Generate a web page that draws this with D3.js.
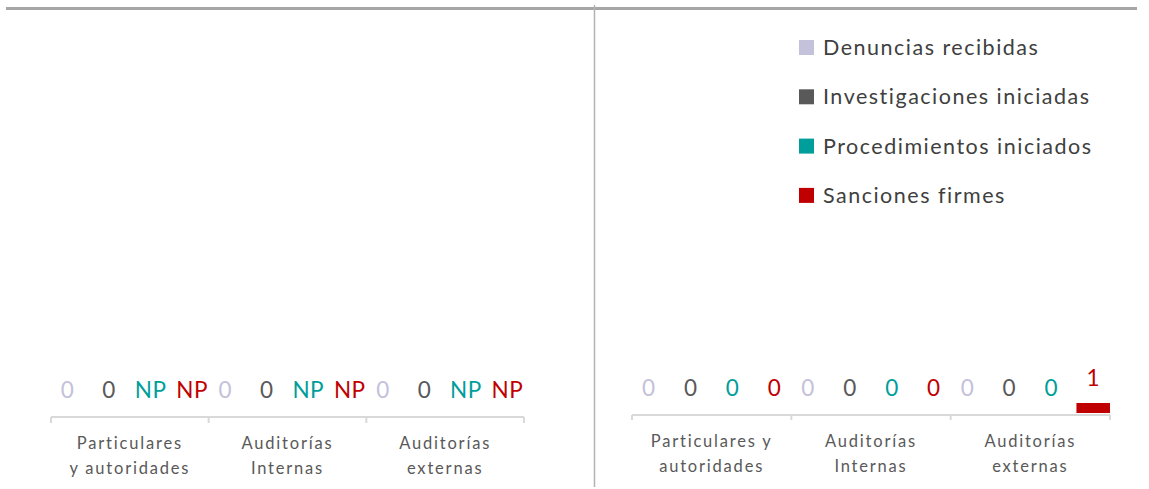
<!DOCTYPE html>
<html><head><meta charset="utf-8">
<script src="https://cdn.jsdelivr.net/npm/d3@7"></script>
<style>
html,body{margin:0;padding:0;background:#fff;}
svg{display:block;}
text{font-family:Lato, "Open Sans", sans-serif;}
</style></head>
<body>
<svg id="c" width="1149" height="489"></svg>
<script>
const series = ["Denuncias recibidas","Investigaciones iniciadas","Procedimientos iniciados","Sanciones firmes"];
const colors = ["#c4c1da","#595959","#009e9a","#c00000"];
const leftCategories = [["Particulares","y autoridades"],["Auditorías","Internas"],["Auditorías","externas"]];
const rightCategories = [["Particulares y","autoridades"],["Auditorías","Internas"],["Auditorías","externas"]];
// values per series, per category (null = NP)
const leftDenuncias = [0,0,0];
const leftInvestigaciones = [0,0,0];
const leftProcedimientos = [null,null,null];
const leftSanciones = [null,null,null];
const rightDenuncias = [0,0,0];
const rightInvestigaciones = [0,0,0];
const rightProcedimientos = [0,0,0];
const rightSanciones = [0,0,1];

const svg = d3.select("#c");

// frame lines
svg.append("line").attr("x1",6).attr("x2",1137).attr("y1",8.5).attr("y2",8.5)
  .attr("stroke","#a6a6a6").attr("stroke-width",3);
svg.append("line").attr("x1",594.5).attr("x2",594.5).attr("y1",5).attr("y2",487)
  .attr("stroke","#b3b3b3").attr("stroke-width",1.5);

function drawChart(cfg){
  const g = svg.append("g");
  const cats = cfg.categories.map((c,i)=>i);
  const x = d3.scaleBand().domain(cats).range([cfg.x0,cfg.x1]).padding(0);
  const xs = d3.scaleBand().domain(series).range([0,x.bandwidth()]).paddingInner(0.2).paddingOuter(0);
  const y = d3.scaleLinear().domain([0,35]).range([cfg.base,cfg.base-350]);
  const data = [cfg.s0,cfg.s1,cfg.s2,cfg.s3];

  // bars
  data.forEach((arr,si)=>{
    arr.forEach((v,ci)=>{
      if(v!==null && v>0){
        g.append("rect")
          .attr("x",x(ci)+xs(series[si]))
          .attr("width",xs.bandwidth())
          .attr("y",y(v)-2)
          .attr("height",y(0)-y(v))
          .attr("fill",colors[si]);
      }
    });
  });

  // axis
  const ax = g.append("g").attr("transform",`translate(0,${cfg.base})`);
  ax.append("line").attr("x1",cfg.x0).attr("x2",cfg.x1).attr("y1",0).attr("y2",0)
    .attr("stroke","#d9d9d9").attr("stroke-width",2);
  const ticks = cats.map(c=>x(c)).concat([cfg.x1]);
  ax.selectAll("line.t").data(ticks).join("line").attr("class","t")
    .attr("x1",d=>d).attr("x2",d=>d).attr("y1",0).attr("y2",cfg.tick)
    .attr("stroke","#d9d9d9").attr("stroke-width",2);

  // category labels
  cfg.categories.forEach((lines,ci)=>{
    const cx = x(ci)+x.bandwidth()/2;
    lines.forEach((t,li)=>{
      g.append("text").attr("x",cx).attr("y",cfg.catY+li*25)
        .attr("text-anchor","middle").attr("font-size",16.5)
        .attr("letter-spacing","1.8px").attr("fill","#595959").text(t);
    });
  });

  // value labels
  data.forEach((arr,si)=>{
    arr.forEach((v,ci)=>{
      const cx = x(ci)+xs(series[si])+xs.bandwidth()/2;
      g.append("text").attr("x",cx).attr("y",(v===null?y(0):y(v))-19)
        .attr("text-anchor","middle").attr("font-size",22.5)
        .attr("letter-spacing","0.5px")
        .attr("fill",colors[si]).text(v===null?"NP":String(v));
    });
  });
}

drawChart({x0:51,x1:524,base:417,tick:6,catY:449,categories:leftCategories,
  s0:leftDenuncias,s1:leftInvestigaciones,s2:leftProcedimientos,s3:leftSanciones});
drawChart({x0:632,x1:1110,base:415,tick:5,catY:447,categories:rightCategories,
  s0:rightDenuncias,s1:rightInvestigaciones,s2:rightProcedimientos,s3:rightSanciones});

// legend
const leg = svg.append("g");
series.forEach((s,i)=>{
  const cy = 47 + i*49.3;
  leg.append("rect").attr("x",799).attr("y",cy-7).attr("width",15).attr("height",15).attr("fill",colors[i]);
  leg.append("text").attr("x",823).attr("y",cy+8).attr("font-size",21.5)
    .attr("letter-spacing","1.5px").attr("fill","#404040").text(s);
});
</script>
</body></html>
